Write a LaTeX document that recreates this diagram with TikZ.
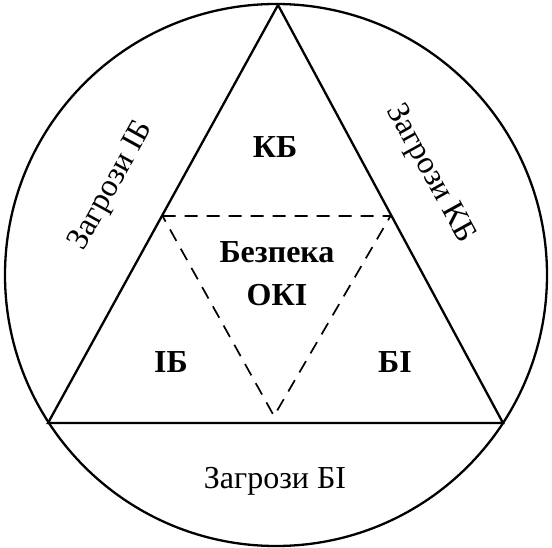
\documentclass[tikz,border=0pt]{standalone}
\usepackage{fontspec}
\setmainfont{Liberation Serif}
\tikzset{
  solidline/.style={line width=2.3pt, line join=miter},
  dashline/.style={line width=1.7pt, dash pattern=on 13pt off 9pt},
  lbl/.style={font=\fontsize{32}{42}\selectfont, inner sep=0pt},
  blbl/.style={font=\fontsize{32}{43}\selectfont\bfseries, inner sep=0pt, align=center},
}
\begin{document}
\begin{tikzpicture}[x=1pt,y=-1pt]
\useasboundingbox (0,0) rectangle (552,548);
\coordinate (O) at (276,275);
\coordinate (A) at (278,5);
\coordinate (L) at (48,423);
\coordinate (R) at (503,423);
\coordinate (ML) at (162.5,216);
\coordinate (MR) at (390.5,216);
\coordinate (MB) at (274,416);
\draw[solidline] (O) circle (271);
\draw[solidline] (A) -- (L) -- (R) -- cycle;
\draw[dashline] (ML) -- (MR) -- (MB) -- cycle;
\node[blbl, anchor=base] (kb) at (275,158) {КБ};
\node[blbl] (core) at (277,274) {Безпека\\ОКІ};
\node[blbl, anchor=base] (ib) at (171,373) {ІБ};
\node[blbl, anchor=base] (bi) at (395,373) {БІ};
\node[lbl, anchor=base] (zbi) at (275,488) {Загрози БІ};
\node[lbl, rotate=61] (zib) at (112,186) {Загрози ІБ};
\node[lbl, rotate=-61] (zkb) at (430,174) {Загрози КБ};
\end{tikzpicture}
\end{document}
